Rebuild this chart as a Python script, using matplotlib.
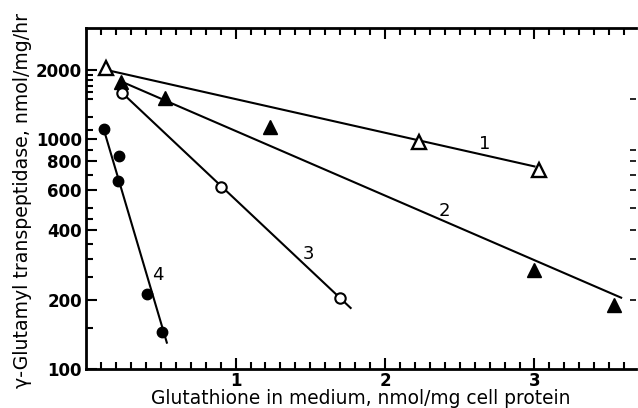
import matplotlib.pyplot as plt
from matplotlib.ticker import FixedLocator, NullFormatter, FixedFormatter
import numpy as np

# points (x: nmol/mg protein, y: nmol/mg/hr)
s1_x = [0.13, 2.23, 3.03]
s1_y = [2030, 975, 735]
s2_x = [0.235, 0.53, 1.23, 3.00, 3.53]
s2_y = [1770, 1510, 1130, 270, 190]
s3_x = [0.24, 0.905, 1.70]
s3_y = [1590, 620, 204]
s4_x = [0.12, 0.22, 0.21, 0.41, 0.51]
s4_y = [1105, 845, 657, 212, 144]

# fitted lines, end points
l1_x = [0.17, 3.00]
l1_y = [1975, 760]
l2_x = [0.235, 3.58]
l2_y = [1780, 204]
l3_x = [0.24, 1.77]
l3_y = [1590, 184]
l4_x = [0.12, 0.54]
l4_y = [1090, 130]

labels = ["1", "2", "3", "4"]
label_x = [2.67, 2.40, 1.49, 0.48]
label_y = [950, 485, 315, 256]

y_major = [100, 200, 400, 600, 800, 1000, 2000]
y_minor = [150, 250, 300, 350, 450, 500, 700, 900, 1100, 1250, 1500, 1600, 1700, 1800, 1900]
y_right = [200, 300, 400, 500, 600, 700, 800, 900, 1500]

fig = plt.figure(figsize=(6.38, 4.08), dpi=100)
ax = fig.add_axes([0.135, 0.096, 0.862, 0.836])

lw = 1.5
ax.plot(l1_x, l1_y, color='black', lw=lw)
ax.plot(l2_x, l2_y, color='black', lw=lw)
ax.plot(l3_x, l3_y, color='black', lw=lw)
ax.plot(l4_x, l4_y, color='black', lw=lw)

ax.plot(s1_x, s1_y, '^', ms=9.5, mfc='white', mec='black', mew=1.7, ls='none')
ax.plot(s2_x, s2_y, '^', ms=9.5, mfc='black', mec='black', ls='none')
ax.plot(s3_x, s3_y, 'o', ms=7.5, mfc='white', mec='black', mew=1.5, ls='none')
ax.plot(s4_x, s4_y, 'o', ms=7.5, mfc='black', mec='black', ls='none')

for t, x, y in zip(labels, label_x, label_y):
    ax.text(x, y, t, fontsize=13, ha='center', va='center')

ax.set_yscale('log')
ax.set_xlim(0, 3.68)
ax.set_ylim(100, 3050)

ax.yaxis.set_major_locator(FixedLocator(y_major))
ax.yaxis.set_major_formatter(FixedFormatter([str(v) for v in y_major]))
ax.yaxis.set_minor_locator(FixedLocator(y_minor))
ax.yaxis.set_minor_formatter(NullFormatter())

ax.set_xticks([1, 2, 3])
ax.set_xticklabels(['1', '2', '3'])
ax.set_xticks(np.arange(0.1, 3.65, 0.1), minor=True)

for s in ['left', 'bottom', 'top']:
    ax.spines[s].set_linewidth(2)
ax.spines['right'].set_visible(False)

ax.tick_params(which='both', direction='in', top=True, width=1.5, pad=3)
ax.tick_params(which='major', length=8, labelsize=12)
ax.tick_params(which='minor', length=5)
ax.tick_params(axis='x', which='major', pad=2)
ax.tick_params(axis='y', which='both', right=False)
for lab in ax.get_yticklabels() + ax.get_xticklabels():
    lab.set_fontweight('bold')

# short marks near the right edge
ax2 = ax.twinx()
ax2.set_yscale('log')
ax2.set_ylim(ax.get_ylim())
ax2.yaxis.set_major_locator(FixedLocator(y_right))
ax2.yaxis.set_minor_locator(FixedLocator([]))
ax2.yaxis.set_major_formatter(NullFormatter())
ax2.tick_params(axis='y', direction='in', length=4, width=1.2)
for s in ax2.spines.values():
    s.set_visible(False)

fig.text(0.565, 0.009, "Glutathione in medium, nmol/mg cell protein",
         fontsize=13.4, ha='center', va='baseline')
fig.text(0.036, 0.508, "γ-Glutamyl transpeptidase, nmol/mg/hr",
         fontsize=13.6, ha='center', va='center', rotation=90)

fig.savefig('out.png', dpi=100)
